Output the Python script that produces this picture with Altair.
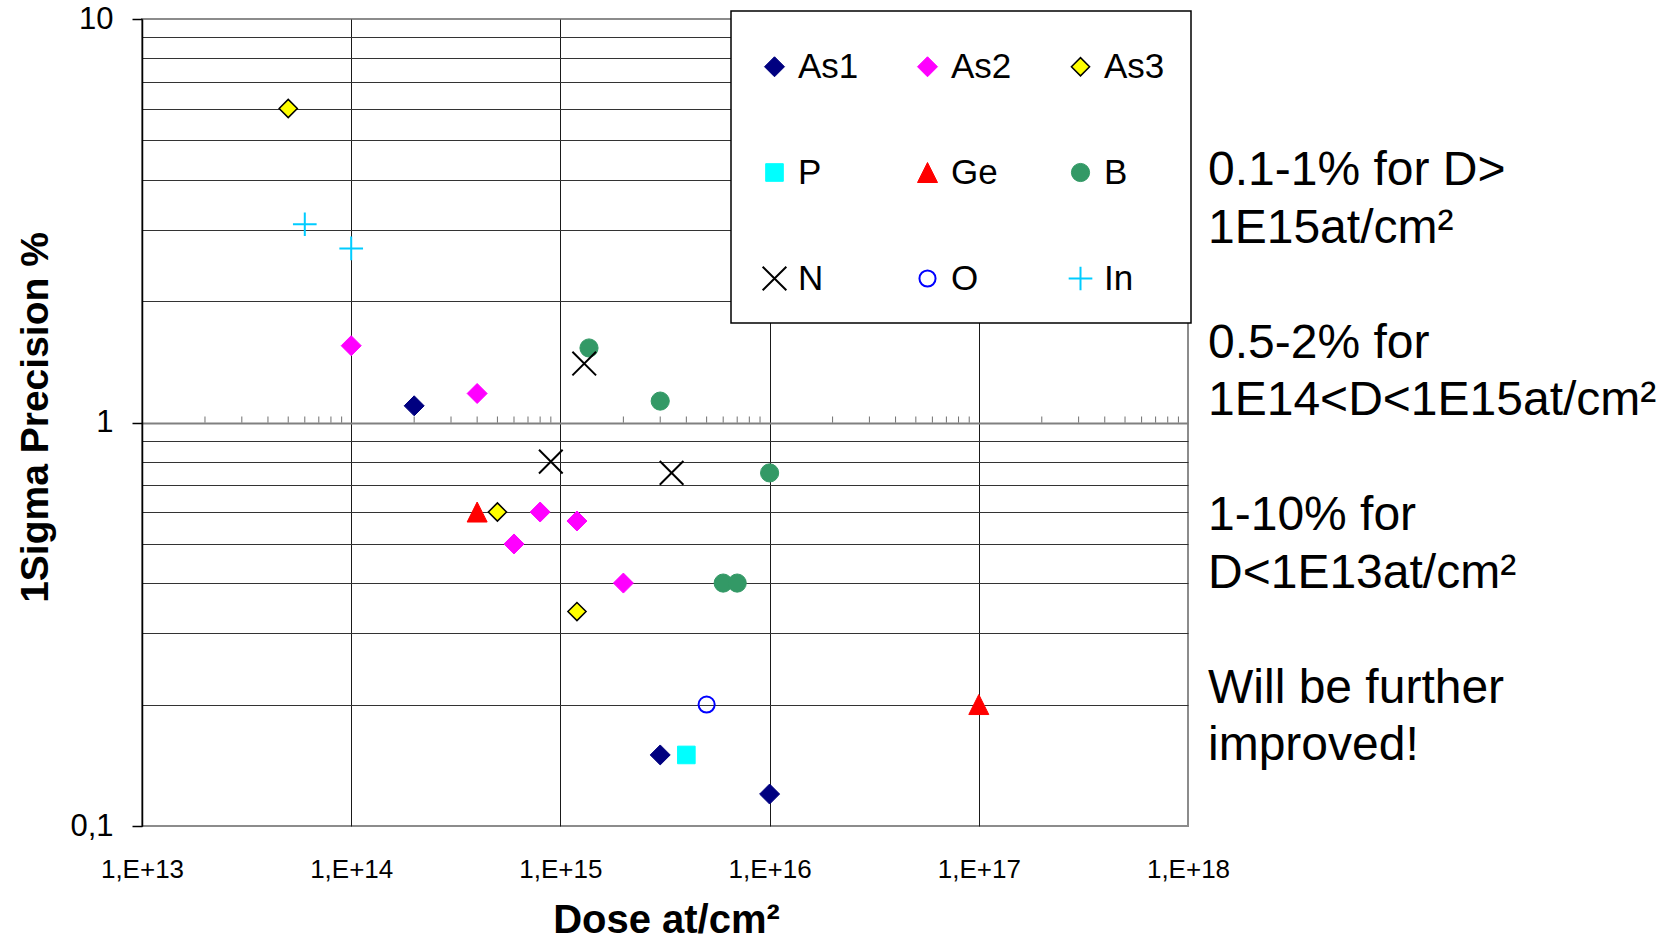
import altair as alt
import pandas as pd

FONT = "Liberation Sans"
NBSP = "\u00a0"

# ---- data ----
SERIES = ["As1", "As2", "As3", "P", "Ge", "B", "N", "O", "In"]

AS1_DOSE = [2e14, 3e15, 1e16]
AS1_PREC = [1.10, 0.15, 0.12]
AS2_DOSE = [1e14, 4e14, 6e14, 8e14, 1.2e15, 2e15]
AS2_PREC = [1.55, 1.18, 0.50, 0.60, 0.57, 0.40]
AS3_DOSE = [5e13, 5e14, 1.2e15]
AS3_PREC = [6.0, 0.60, 0.34]
P_DOSE = [4e15]
P_PREC = [0.15]
GE_DOSE = [4e14, 1e17]
GE_PREC = [0.60, 0.20]
B_DOSE = [1.37e15, 3e15, 1e16, 6e15, 7e15]
B_PREC = [1.53, 1.13, 0.75, 0.40, 0.40]
N_DOSE = [1.3e15, 9e14, 3.4e15]
N_PREC = [1.40, 0.80, 0.75]
O_DOSE = [5e15]
O_PREC = [0.20]
IN_DOSE = [6e13, 1e14]
IN_PREC = [3.1, 2.7]

X_TICKS = [1e13, 1e14, 1e15, 1e16, 1e17, 1e18]
Y_GRID = [0.1, 0.2, 0.3, 0.4, 0.5, 0.6, 0.7, 0.8, 0.9,
          1, 2, 3, 4, 5, 6, 7, 8, 9, 10]
MINOR_X = [m * 10.0 ** k for k in range(13, 18) for m in range(2, 10)]

ANNOT_BLOCKS = [["0.1-1% for D>", "1E15at/cm²"],
                ["0.5-2% for", "1E14<D<1E15at/cm²"],
                ["1-10% for", "D<1E13at/cm²"],
                ["Will be further", "improved!"]]

# ---- styles (one entry per series, same order as SERIES) ----
FILLS = ["#000080", "#FF00FF", "#FFFF00", "#00FFFF", "#FF0000", "#339966",
         "transparent", "transparent", "transparent"]
STROKES = ["#000080", "#FF00FF", "#000000", "#00FFFF", "#FF0000", "#339966",
           "#000000", "#0000FF", "#00CCFF"]
SHAPES = ["diamond", "diamond", "diamond", "square", "M0,-1L1,1L-1,1Z", "circle",
          "M-1,-1L1,1M-1,1L1,-1", "circle", "M-1,0L1,0M0,-1L0,1"]
SIZES = [400, 400, 330, 310, 400, 330, 560, 260, 560]
STROKE_W = [1, 1, 1.5, 1, 1, 1, 2, 2, 2]

groups = [(AS1_DOSE, AS1_PREC), (AS2_DOSE, AS2_PREC), (AS3_DOSE, AS3_PREC),
          (P_DOSE, P_PREC), (GE_DOSE, GE_PREC), (B_DOSE, B_PREC),
          (N_DOSE, N_PREC), (O_DOSE, O_PREC), (IN_DOSE, IN_PREC)]
rows = []
for name, (xs, ys) in zip(SERIES, groups):
    for x, y in zip(xs, ys):
        rows.append({"series": name, "dose": x, "prec": y})
df = pd.DataFrame(rows)

W, H = 1046, 807
XSCALE = alt.Scale(type="log", domain=[1e13, 1e18])
YSCALE = alt.Scale(type="log", domain=[0.1, 10])

MAJOR = "datum.value == 0.1 || datum.value == 1 || datum.value == 10"

LEG = alt.Legend(title=NBSP, orient="none", legendX=589, legendY=-8,
                 columns=3, direction="horizontal")

x_axis = alt.Axis(
    values=X_TICKS,
    labelExpr="'1,E+' + round(log(datum.value) / LN10)",
    labelFont=FONT, labelFontSize=26, labelColor="black",
    labelPadding=30, labelFlush=False, labelOverlap=False,
    ticks=False, tickSize=0, domain=False,
    grid=True, gridColor="#1a1a1a", gridWidth=1,
    gridOpacity={"condition": {"test": "datum.value > 5e17", "value": 0}, "value": 1},
    title="Dose at/cm²", titleFont=FONT, titleFontSize=40, titleFontWeight="bold",
    titleColor="black", titleX=524, titleY=106, titleBaseline="alphabetic",
    titleAlign="center",
)

y_axis = alt.Axis(
    values=Y_GRID,
    labelExpr="datum.value == 0.1 ? '0,1' : (datum.value == 1 ? '1' : (datum.value == 10 ? '10' : ''))",
    labelFont=FONT, labelFontSize=31, labelColor="black",
    labelPadding=19, labelOverlap=False,
    tickSize=10, tickColor="black", tickWidth=1.5,
    tickOpacity={"condition": {"test": MAJOR, "value": 1}, "value": 0},
    domainColor="black", domainWidth=1.5,
    grid=True,
    gridColor={"condition": {"test": "datum.value == 1", "value": "#808080"}, "value": "#333333"},
    gridWidth={"condition": {"test": "datum.value == 1", "value": 2}, "value": 1},
    gridOpacity={"condition": {"test": "datum.value == 0.1 || datum.value == 10", "value": 0}, "value": 1},
    title="1Sigma Precision %", titleFont=FONT, titleFontSize=39, titleFontWeight="bold",
    titleColor="black", titleX=-95, titleY=398, titleAngle=270,
    titleBaseline="alphabetic", titleAlign="center",
)

points = alt.Chart(df).mark_point(filled=True, opacity=1).encode(
    x=alt.X("dose:Q", scale=XSCALE, axis=x_axis),
    y=alt.Y("prec:Q", scale=YSCALE, axis=y_axis),
    fill=alt.Fill("series:N", scale=alt.Scale(domain=SERIES, range=FILLS), legend=LEG),
    stroke=alt.Stroke("series:N", scale=alt.Scale(domain=SERIES, range=STROKES), legend=LEG),
    shape=alt.Shape("series:N", scale=alt.Scale(domain=SERIES, range=SHAPES), legend=LEG),
    size=alt.Size("series:N", scale=alt.Scale(type="ordinal", domain=SERIES, range=SIZES), legend=LEG),
    strokeWidth=alt.StrokeWidth("series:N", scale=alt.Scale(type="ordinal", domain=SERIES, range=STROKE_W), legend=LEG),
)

minor_ticks = alt.Chart(pd.DataFrame({"v": MINOR_X})).mark_tick(
    orient="vertical", size=6, thickness=1, color="#333333", yOffset=-3
).encode(
    x=alt.X("v:Q", scale=XSCALE),
    y=alt.YDatum(1.0, type="quantitative", scale=YSCALE),
)

layers = [points, minor_ticks]
for i, block in enumerate(ANNOT_BLOCKS):
    layers.append(
        alt.Chart(pd.DataFrame({"k": [i]})).mark_text(
            text=block, align="left", baseline="alphabetic", font=FONT,
            fontSize=48, lineHeight=57.5, color="black"
        ).encode(x=alt.value(W + 20), y=alt.value(166 + i * 172.5))
    )

chart = alt.layer(*layers).properties(
    width=W, height=H,
    padding={"left": 142, "top": 19, "right": 1679 - 142 - W, "bottom": 939 - 19 - H},
    autosize=alt.AutoSizeParams(type="none"),
    background="white",
).configure_view(
    stroke="#8c8c8c", strokeWidth=2
).configure_legend(
    labelFont=FONT, labelFontSize=35, labelColor="black", labelOffset=6,
    columnPadding=51, rowPadding=70, padding=26, gridAlign="all",
    titleFontSize=12, titlePadding=0, titleFont=FONT,
    strokeColor="black", strokeWidth=1.5, fillColor="white",
    symbolOpacity=1, labelLimit=0,
)

chart.save("out.html", embed_options={"renderer": "svg", "actions": False})
